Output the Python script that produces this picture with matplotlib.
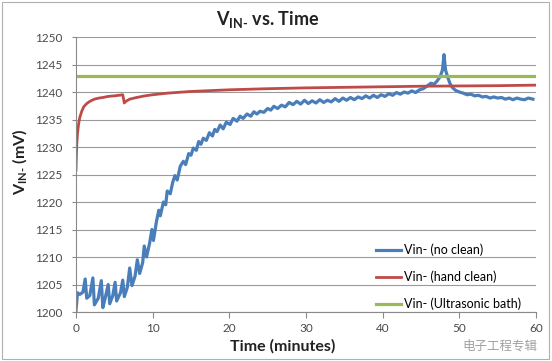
import matplotlib.pyplot as plt
from matplotlib.patches import Rectangle

# blue: Vin- (no clean)
t_no_clean = [0, 0.2, 0.5, 0.9, 1.2, 1.4, 1.8, 2.2, 2.4, 2.9, 3.3, 3.5, 3.8, 4.2, 4.4, 4.8,
              5.1, 5.3, 5.8, 6.1, 6.3, 6.7, 7.0, 7.3, 7.7, 8.0, 8.3, 8.7, 8.9, 9.2, 9.6, 9.9,
              10.1, 10.5, 10.8, 11.0, 11.4, 11.7, 11.9, 12.3, 12.6, 12.9, 13.2, 13.6, 14.0,
              14.3, 14.7, 15.0, 15.3, 15.7, 16.0, 16.3, 16.6, 17.0, 17.4, 17.8, 18.1, 18.4,
              18.8, 19.2, 19.6, 20.1, 20.5, 21.0, 21.4, 21.8, 22.3, 22.8, 23.2, 23.6, 24.0,
              24.5, 25.0, 25.4, 25.8, 26.3, 26.8, 27.3, 27.8, 28.3, 28.8, 29.3, 29.8, 30.3,
              30.8, 31.3, 31.8, 32.3, 32.8, 33.3, 33.8, 34.3, 34.8, 35.3, 35.8, 36.3, 36.8,
              37.3, 37.8, 38.3, 38.8, 39.3, 39.8, 40.3, 40.8, 41.3, 41.8, 42.3, 42.8, 43.3,
              43.8, 44.3, 44.8, 45.3, 45.8, 46.3, 46.7, 47.1, 47.5, 47.8, 48.0, 48.2, 48.5,
              48.8, 49.1, 49.5, 50.0, 50.5, 51.0, 51.5, 52.0, 52.5, 53.0, 53.5, 54.0, 54.5,
              55.0, 55.5, 56.0, 56.5, 57.0, 57.5, 58.0, 58.5, 59.0, 59.6]
v_no_clean = [1200.3, 1203.5, 1203.2, 1203.6, 1206.0, 1202.5, 1203.0, 1206.2, 1201.3, 1202.5,
              1205.7, 1200.8, 1202.5, 1205.0, 1201.5, 1203.0, 1205.4, 1202.0, 1203.5, 1205.8,
              1202.8, 1204.5, 1208.0, 1204.8, 1206.5, 1209.5, 1207.0, 1209.0, 1212.0, 1210.0,
              1212.5, 1215.0, 1213.0, 1216.5, 1218.5, 1217.5, 1220.0, 1219.5, 1222.0, 1221.5,
              1223.5, 1224.8, 1224.0, 1226.5, 1227.4, 1226.8, 1228.8, 1228.5, 1229.8, 1229.4,
              1231.0, 1230.5, 1231.6, 1231.2, 1232.6, 1232.0, 1233.2, 1232.8, 1234.0, 1233.3,
              1234.5, 1234.1, 1235.2, 1234.7, 1235.6, 1235.2, 1236.0, 1235.6, 1236.4, 1236.0,
              1236.5, 1236.3, 1237.0, 1236.7, 1237.4, 1237.0, 1237.6, 1237.3, 1238.1, 1237.7,
              1238.3, 1237.8, 1238.5, 1237.9, 1238.4, 1238.0, 1238.6, 1238.1, 1238.5, 1238.2,
              1238.8, 1238.3, 1238.9, 1238.5, 1239.0, 1238.6, 1239.1, 1238.8, 1239.3, 1238.9,
              1239.4, 1239.0, 1239.5, 1239.2, 1239.7, 1239.4, 1239.9, 1239.6, 1240.0, 1239.8,
              1240.2, 1239.9, 1240.4, 1240.6, 1241.1, 1241.6, 1241.4, 1242.0, 1242.8, 1244.0,
              1246.8, 1244.0, 1242.6, 1241.5, 1240.8, 1240.3, 1240.0, 1239.8, 1239.5, 1239.6,
              1239.3, 1239.4, 1239.1, 1239.2, 1238.9, 1239.1, 1238.9, 1239.0, 1238.7, 1238.9,
              1238.6, 1238.9, 1238.7, 1238.6, 1238.9, 1238.7]

# red: Vin- (hand clean)
t_hand_clean = [0, 0.05, 0.1, 0.2, 0.35, 0.5, 0.75, 1.0, 1.4, 1.8, 2.4, 3.0, 3.5, 4.2, 5.0,
                5.6, 6.1, 6.3, 6.5, 7.0, 7.9, 9.0, 10, 12, 15, 20, 25, 30, 35, 40, 45, 50,
                55, 60]
v_hand_clean = [1225.8, 1228.5, 1230.5, 1232.5, 1234.3, 1235.4, 1236.5, 1237.3, 1237.9,
                1238.3, 1238.7, 1238.9, 1239.0, 1239.2, 1239.3, 1239.4, 1239.5, 1238.0,
                1238.3, 1238.7, 1239.0, 1239.3, 1239.5, 1239.8, 1240.1, 1240.4, 1240.6,
                1240.75, 1240.85, 1240.95, 1241.05, 1241.1, 1241.15, 1241.25]

# green: Vin- (Ultrasonic bath)
t_ultra = [0, 60]
v_ultra = [1243, 1243]

labels = ['Vin- (no clean)', 'Vin- (hand clean)', 'Vin- (Ultrasonic bath)']
x_ticks = [0, 10, 20, 30, 40, 50, 60]
y_ticks = [1200, 1205, 1210, 1215, 1220, 1225, 1230, 1235, 1240, 1245, 1250]

plt.rcParams['font.family'] = ['Lato', 'Noto Sans CJK SC', 'DejaVu Sans']
plt.rcParams['mathtext.fontset'] = 'custom'
plt.rcParams['mathtext.rm'] = 'Lato'
plt.rcParams['mathtext.bf'] = 'Lato:bold'
plt.rcParams['mathtext.fallback'] = 'stixsans'

fig = plt.figure(figsize=(5.52, 3.61), dpi=100)
ax = fig.add_axes([76 / 552, 1 - 312 / 361, 460 / 552, 275 / 361])

# thin outer border of the chart
fig.patches.append(Rectangle((0.004, 0.006), 0.99, 0.988, transform=fig.transFigure,
                             fill=False, edgecolor='#b0b0b0', linewidth=0.8))

ax.plot(t_no_clean, v_no_clean, color='#4a7ebb', lw=2.3, label=labels[0])
ax.plot(t_hand_clean, v_hand_clean, color='#be4b48', lw=2.0, label=labels[1])
ax.plot(t_ultra, v_ultra, color='#98b954', lw=2.3, label=labels[2])

ax.set_xlim(0, 60)
ax.set_ylim(1200, 1250)
ax.set_xticks(x_ticks)
ax.set_yticks(y_ticks)
ax.yaxis.grid(True, color='#9a9a9a', lw=0.8)
ax.set_axisbelow(True)
for s in ['top', 'right']:
    ax.spines[s].set_visible(False)
for s in ['left', 'bottom']:
    ax.spines[s].set_color('#8a8a8a')
ax.tick_params(axis='both', labelsize=8.5, colors='#8a8a8a', labelcolor='#4a4a4a')
ax.tick_params(axis='y', length=3, pad=7)
ax.tick_params(axis='x', length=4, pad=4)

# subscript "IN-" with a real hyphen (U+2010) so mathtext adds no minus spacing
sub = '$_{\\mathbf{IN\u2010}}$'
fig.text(0.485, 1 - 19 / 361, 'V' + sub + ' vs. Time', ha='center', va='center',
         fontsize=13, fontweight='bold', color='#222222')
fig.text(20 / 552, 1 - 162 / 361, 'V' + sub + ' (mV)', rotation=90, ha='center',
         va='center', fontsize=11.5, fontweight='bold', color='#222222')
fig.text(283 / 552, 1 - 346 / 361, 'Time (minutes)', ha='center', va='center',
         fontsize=11.5, fontweight='bold', color='#222222')

ax.legend(loc='lower left', bbox_to_anchor=(376 / 552, 1 - 310 / 361),
          bbox_transform=fig.transFigure, frameon=False, fontsize=9,
          handlelength=2.0, handletextpad=0.2, labelspacing=1.15, borderpad=0,
          borderaxespad=0)

# watermark
fig.text(500 / 552, 1 - 346 / 361, '电子工程专辑', ha='center', va='center',
         fontsize=9, color='#a0a0a0', family=['Noto Sans CJK SC', 'DejaVu Sans'])

fig.savefig('out.png', dpi=100)
